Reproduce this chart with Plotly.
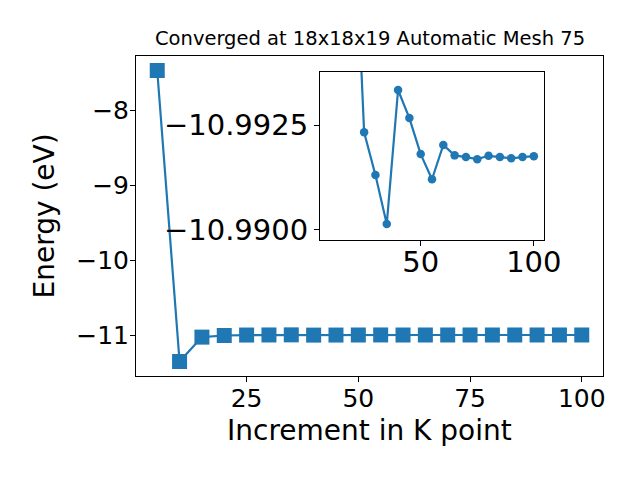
import plotly.graph_objects as go

kpoints = [5, 10, 15, 20, 25, 30, 35, 40, 45, 50, 55, 60, 65, 70, 75, 80, 85, 90, 95, 100]
energy = [-7.475, -11.344, -11.02, -10.9985, -10.99233, -10.99131, -10.99014, -10.99334,
          -10.99267, -10.99181, -10.99121, -10.99203, -10.99178, -10.99174, -10.99169,
          -10.99177, -10.99174, -10.99171, -10.99174, -10.99176]
inset_start = 1  # inset shows from k=10 onward

main_xticks = [25, 50, 75, 100]
main_yticks = [-8, -9, -10, -11]
main_yticklabels = ["\u22128", "\u22129", "\u221210", "\u221211"]
inset_xticks = [50, 100]
inset_yticks = [-10.9925, -10.9900]
inset_yticklabels = ["\u221210.9925", "\u221210.9900"]

title = "Converged at 18x18x19 Automatic Mesh 75"
xlabel = "Increment in K point"
ylabel = "Energy (eV)"

C = "#1f77b4"
FONT = "DejaVu Sans"
OFF = 8  # page body margin
W, H = 640 - OFF, 480 - OFF

fig = go.Figure()
fig.add_trace(go.Scatter(x=kpoints, y=energy, mode="lines+markers",
                         line=dict(color=C, width=2.2),
                         marker=dict(symbol="square", size=15, color=C),
                         xaxis="x", yaxis="y", showlegend=False))
fig.add_trace(go.Scatter(x=kpoints[inset_start:], y=energy[inset_start:], mode="lines+markers",
                         line=dict(color=C, width=2.2),
                         marker=dict(symbol="circle", size=8.5, color=C),
                         xaxis="x2", yaxis="y2", showlegend=False))

def px_x(p):
    return (p - OFF) / W

def px_y(p):
    return 1 - (p - OFF) / H

axis_common = dict(showgrid=False, zeroline=False, showline=True, linecolor="black",
                   linewidth=1, mirror=True, ticks="outside", ticklen=5, tickwidth=1,
                   tickcolor="black", automargin=False)

fig.update_layout(
    width=W, height=H,
    margin=dict(l=0, r=0, t=0, b=0, autoexpand=False),
    paper_bgcolor="white", plot_bgcolor="white",
    font=dict(family=FONT, color="black"),
    xaxis=dict(domain=[px_x(136), px_x(603)], range=[0.25, 104.75],
               tickvals=main_xticks, tickfont=dict(size=25), anchor="y",
               ticklabelstandoff=-5, **axis_common),
    yaxis=dict(domain=[px_y(376), px_y(56)], range=[-11.537, -7.282],
               tickvals=main_yticks, ticktext=main_yticklabels,
               tickfont=dict(size=25), anchor="x", ticklabelstandoff=-4, **axis_common),
    xaxis2=dict(domain=[px_x(320), px_x(544)], range=[5.5, 104.5],
                tickvals=inset_xticks, tickfont=dict(size=29), anchor="y2",
                ticklabelstandoff=-9, **axis_common),
    yaxis2=dict(domain=[px_y(240), px_y(72)], range=[-10.98976, -10.99377],
                tickvals=inset_yticks, ticktext=inset_yticklabels,
                tickfont=dict(size=29), anchor="x2", **axis_common),
    annotations=[
        dict(text=title, x=px_x(369.5), y=px_y(52), xref="paper", yref="paper",
             xanchor="center", yanchor="bottom", showarrow=False,
             font=dict(size=19.5, family=FONT)),
        dict(text=xlabel, x=px_x(369.5), y=px_y(449), xref="paper", yref="paper",
             xanchor="center", yanchor="bottom", showarrow=False,
             font=dict(size=28, family=FONT)),
        dict(text=ylabel, x=px_x(26), y=px_y(216), xref="paper", yref="paper",
             xanchor="left", yanchor="middle", showarrow=False, textangle=-90,
             font=dict(size=28, family=FONT)),
    ],
)

fig.write_html("out.html")
